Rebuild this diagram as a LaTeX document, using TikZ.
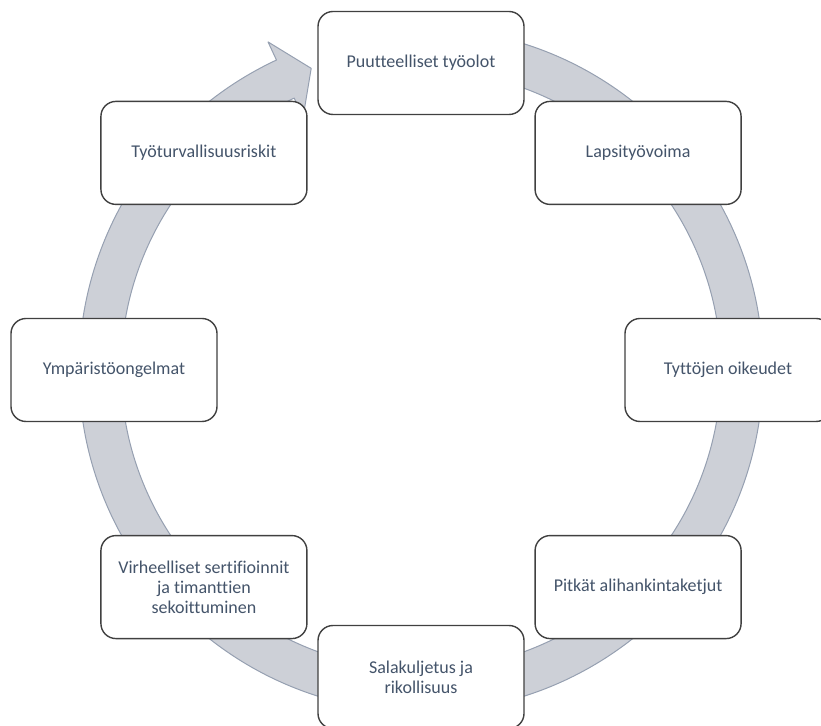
\documentclass[tikz,border=0pt]{standalone}
\usepackage{fontspec}
\setmainfont{Carlito}[Ligatures={NoCommon}]
\usetikzlibrary{calc}
\definecolor{txt}{HTML}{44546A}
\definecolor{boxline}{HTML}{404040}
\definecolor{bandfill}{HTML}{CDD0D7}
\definecolor{bandline}{HTML}{96A0B1}
\begin{document}
\begin{tikzpicture}[x=1pt,y=1pt,
  box/.style={draw=boxline, line width=1.4pt, fill=white, rounded corners=15pt,
    minimum width=206pt, minimum height=103pt, align=center, text=txt,
    font=\fontsize{18}{20}\selectfont, inner sep=0pt}]
\useasboundingbox (0,0) rectangle (821,725);
\coordinate (C) at (421,355);
% circular arrow band
\filldraw[fill=bandfill, draw=bandline, line width=1pt, line join=round]
  ($(C)+(88:342)$) arc[start angle=88, end angle=-245, radius=342]
  -- ($(C)+(115:362)$) -- ($(C)+(110:321)$) -- ($(C)+(115:279)$)
  -- ($(C)+(115:300)$) arc[start angle=-245, end angle=88, radius=300] -- cycle;
% boxes
\node[box] (b1) at ($(C)+(90:307)$) {Puutteelliset työolot};
\node[box] (b2) at ($(C)+(45:307)$) {Lapsityövoima};
\node[box] (b3) at ($(C)+(0:307)$) {Tyttöjen oikeudet};
\node[box] (b4) at ($(C)+(-45:307)$) {Pitkät alihankintaketjut};
\node[box] (b5) at ($(C)+(-90:307)$) {Salakuljetus ja\\rikollisuus};
\node[box] (b6) at ($(C)+(-135:307)$) {Virheelliset sertifioinnit\\ja timanttien\\sekoittuminen};
\node[box] (b7) at ($(C)+(180:307)$) {Ympäristöongelmat};
\node[box] (b8) at ($(C)+(135:307)$) {Työturvallisuusriskit};
\end{tikzpicture}
\end{document}
